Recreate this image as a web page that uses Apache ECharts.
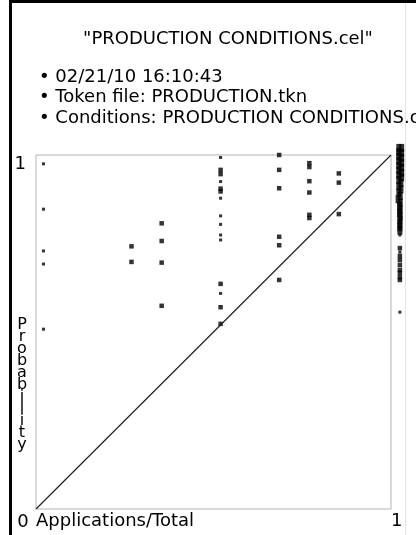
<!DOCTYPE html>
<html>
<head>
<meta charset="utf-8">
<script src="https://cdn.jsdelivr.net/npm/echarts@6/dist/echarts.min.js"></script>
<style>
  html, body { margin: 0; padding: 0; background: #fff; }
  #chart { width: 416px; height: 535px; }
</style>
</head>
<body>
<div id="chart"></div>
<script>
  // 文本
  const titleText = '"PRODUCTION CONDITIONS.cel"';
  const infoLines = [
    '02/21/10 16:10:43',
    'Token file: PRODUCTION.tkn',
    'Conditions: PRODUCTION CONDITIONS.cel'
  ];
  const yName = 'Probability';
  const xTickLabels = ['Applications/Total', '1'];
  const yTickLabels = ['0', '1'];

  // 散点数据 [x, y]
  const smallPoints = [
    [0.021, 0.975], [0.021, 0.847], [0.021, 0.729], [0.021, 0.692], [0.021, 0.508],
    [0.520, 0.993], [0.520, 0.925], [0.520, 0.878], [0.520, 0.828], [0.520, 0.804],
    [0.520, 0.774], [0.520, 0.760], [0.520, 0.609],
    [1.025, 0.774], [1.025, 0.726], [1.025, 0.556]
  ];
  const bigPoints = [
    [0.269, 0.742], [0.269, 0.698],
    [0.354, 0.807], [0.354, 0.757], [0.354, 0.696], [0.354, 0.574],
    [0.520, 0.958], [0.520, 0.946], [0.520, 0.905], [0.520, 0.897],
    [0.520, 0.636], [0.520, 0.570], [0.520, 0.523],
    [0.685, 1.000], [0.685, 0.958], [0.685, 0.906], [0.685, 0.769], [0.685, 0.745], [0.685, 0.647],
    [0.770, 0.977], [0.770, 0.966], [0.770, 0.926], [0.770, 0.894], [0.770, 0.831], [0.770, 0.822],
    [0.853, 0.948], [0.853, 0.922], [0.853, 0.833],
    [1.025, 0.737], [1.025, 0.715], [1.025, 0.703], [1.025, 0.689], [1.025, 0.675],
    [1.025, 0.667], [1.025, 0.655], [1.025, 0.647]
  ];
  // 右侧密集的一列
  const denseColumn = [
    [1.022, 1.020], [1.030, 1.020], [1.022, 1.008], [1.030, 1.006], [1.022, 0.996],
    [1.030, 0.992], [1.022, 0.983], [1.030, 0.978], [1.022, 0.970], [1.030, 0.964],
    [1.022, 0.957], [1.030, 0.950], [1.022, 0.944], [1.030, 0.937], [1.022, 0.930],
    [1.028, 0.921], [1.022, 0.912], [1.028, 0.903], [1.022, 0.894], [1.026, 0.884],
    [1.020, 0.875], [1.026, 0.866], [1.024, 0.856], [1.026, 0.846], [1.024, 0.836],
    [1.026, 0.826], [1.025, 0.816], [1.025, 0.806], [1.025, 0.796], [1.025, 0.786]
  ];
  const diagonal = [[0, 0], [1, 1]];

  const chart = echarts.init(document.getElementById('chart'));
  const font = 'DejaVu Sans';
  const fontSize = 18;

  chart.setOption({
    animation: false,
    textStyle: { fontFamily: font, color: '#000' },
    title: {
      text: titleText,
      left: 223,
      top: 25,
      textAlign: 'center',
      textStyle: { fontFamily: font, fontSize: fontSize, fontWeight: 'normal', color: '#000' }
    },
    grid: {
      left: 36, top: 155, right: 25, bottom: 26,
      show: true, borderColor: '#b4b4b4', borderWidth: 1, backgroundColor: '#fff'
    },
    xAxis: {
      type: 'value', min: 0, max: 1, interval: 1,
      axisLine: { show: false }, axisTick: { show: false }, splitLine: { show: false },
      axisLabel: {
        fontFamily: font, fontSize: fontSize, color: '#000', margin: 3,
        formatter: v => xTickLabels[v],
        alignMinLabel: 'left', alignMaxLabel: 'left'
      }
    },
    yAxis: {
      type: 'value', min: 0, max: 1, interval: 1,
      axisLine: { show: false }, axisTick: { show: false }, splitLine: { show: false },
      axisLabel: {
        fontFamily: font, fontSize: fontSize, color: '#000', margin: 10,
        formatter: v => (v === 1 ? yTickLabels[1] : ''),
        verticalAlignMaxLabel: 'top'
      }
    },
    graphic: [
      { type: 'rect', shape: { x: 9, y: 0, width: 407, height: 3 }, style: { fill: '#000' } },
      { type: 'rect', shape: { x: 9, y: 0, width: 3, height: 535 }, style: { fill: '#000' } },
      { type: 'rect', shape: { x: 405, y: 3, width: 1, height: 532 }, style: { fill: '#e4e4e4' } },
      {
        type: 'text', left: 39, top: 67,
        style: {
          text: infoLines.map(s => '\u2022 ' + s).join('\n'),
          font: fontSize + 'px "' + font + '"', lineHeight: 20.5, fill: '#000'
        }
      },
      {
        type: 'text', x: 23, y: 522,
        style: { text: yTickLabels[0], font: fontSize + 'px "' + font + '"', fill: '#000',
                 textAlign: 'center', textVerticalAlign: 'middle' }
      },
      {
        type: 'text', x: 22, y: 319,
        style: { text: yName.split('').join('\n'), font: '16px "' + font + '"',
                 lineHeight: 12, fill: '#000', textAlign: 'center' }
      }
    ],
    series: [
      {
        type: 'line', data: diagonal, symbol: 'none', silent: true,
        lineStyle: { color: '#222', width: 1.2 }
      },
      {
        type: 'scatter', data: smallPoints, symbol: 'rect', symbolSize: 3, clip: false,
        itemStyle: { color: '#000' }
      },
      {
        type: 'scatter', data: bigPoints, symbol: 'rect', symbolSize: 4.5, clip: false,
        itemStyle: { color: '#000' }
      },
      {
        type: 'scatter', data: denseColumn, symbol: 'rect', symbolSize: [5, 8], clip: false,
        itemStyle: { color: '#000' }
      }
    ]
  });
</script>
</body>
</html>
